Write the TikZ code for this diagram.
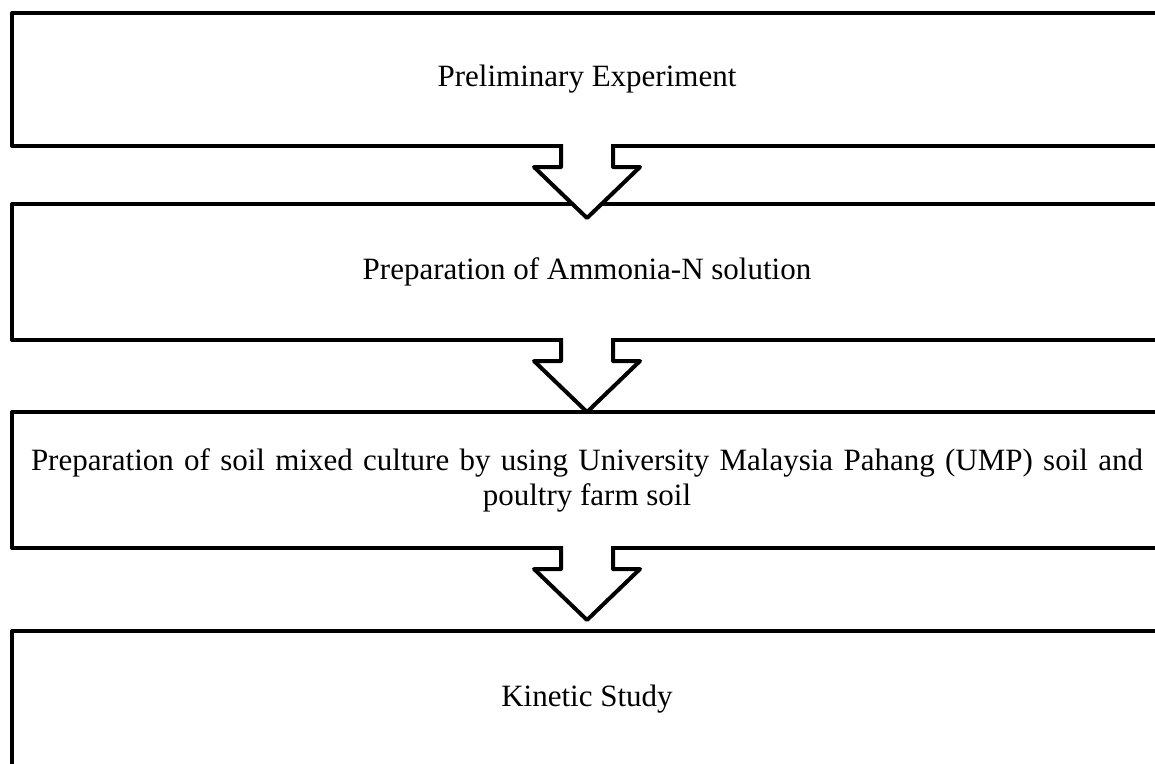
\documentclass[tikz,border=0pt]{standalone}
\usepackage{fontspec}
\setmainfont{Liberation Serif}
\begin{document}
\begin{tikzpicture}[x=1pt,y=-1pt,
  stepbox/.style={draw=black,line width=4pt,line join=round,rectangle,
    minimum width=1150pt,inner sep=0pt,outer sep=0pt,align=center,
    font=\fontsize{31}{35}\selectfont},
  arrowline/.style={draw=black,line width=4pt,line join=round},
  arrowfill/.style={fill=white}]
\useasboundingbox (0,0) rectangle (1155,763);
\fill[white] (0,0) rectangle (1155,763);
\begin{scope}
\clip (0,0) rectangle (1155,763);
\node[stepbox,minimum height=133pt] (b1) at (587,79.5) {Preliminary Experiment};
\node[stepbox,minimum height=136pt] (b2) at (587,272) {Preparation of Ammonia-N solution};
\node[stepbox,minimum height=136pt] (b3) at (587,480) {\makebox[1112pt][s]{Preparation of soil mixed culture by using University Malaysia Pahang (UMP) soil and}\\poultry farm soil};
\node[stepbox,minimum height=136pt] (b4) at (587,699) {Kinetic Study};
\foreach \n in {b1,b2,b3}{
  \begin{scope}[shift={(\n.south)}]
    \path[arrowfill] (-26,-3) -- (-26,21) -- (-53,21) -- (0,72) -- (53,21) -- (26,21) -- (26,-3) -- cycle;
    \draw[arrowline] (-26,-2) -- (-26,21) -- (-53,21) -- (0,72) -- (53,21) -- (26,21) -- (26,-2);
  \end{scope}
}
\end{scope}
\end{tikzpicture}
\end{document}
